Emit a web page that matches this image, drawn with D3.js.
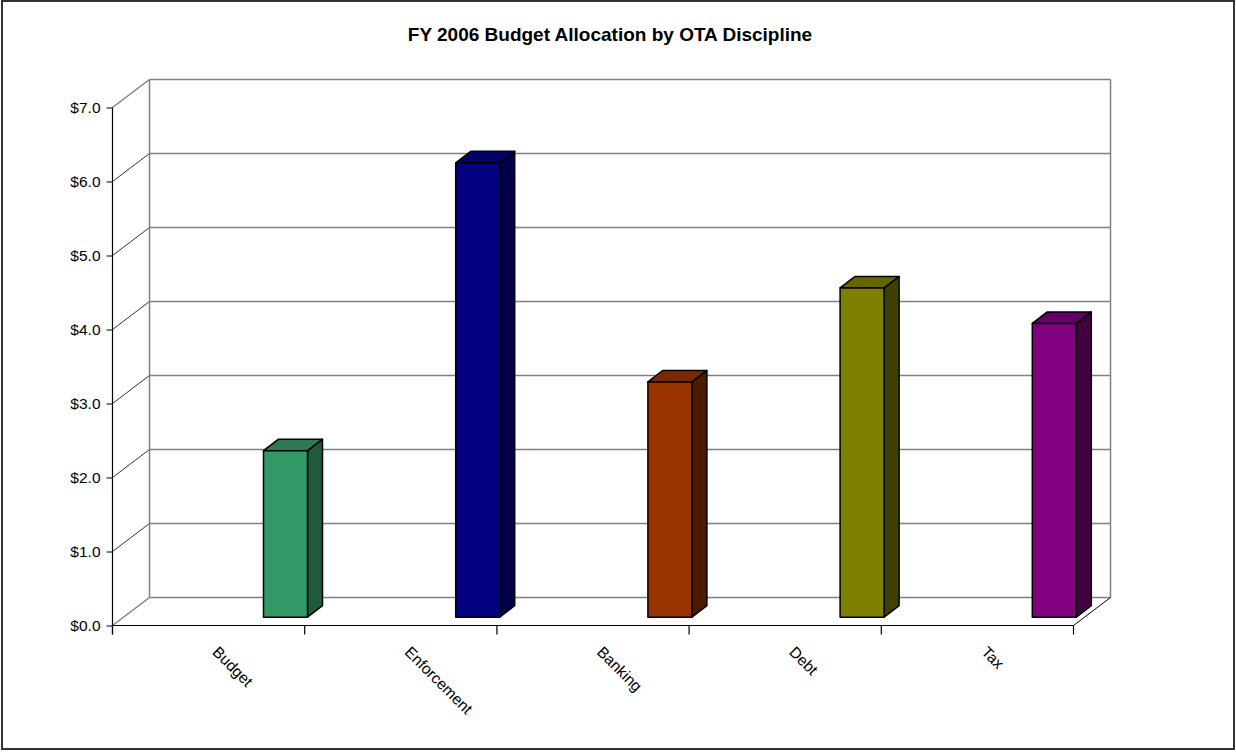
<!DOCTYPE html>
<html><head><meta charset="utf-8">
<script src="https://cdn.jsdelivr.net/npm/d3@7"></script>
<style>body{margin:0;background:#fff;} svg{display:block;font-family:"Liberation Sans",Arial,sans-serif;}</style>
</head><body>
<svg id="c" width="1236" height="752"></svg>
<script>
const title = "FY 2006 Budget Allocation by OTA Discipline";
const categories = ["Budget", "Enforcement", "Banking", "Debt", "Tax"];
const values = [2.25, 6.14, 3.18, 4.45, 3.97];
const frontColors = ["#339966", "#000080", "#993300", "#808000", "#800080"];
const sideColors = ["#1f5a3c", "#00004a", "#4d1a00", "#404000", "#420042"];
const topColors = ["#2b7a52", "#000066", "#7a2900", "#666600", "#660066"];
const yTicks = [0, 1, 2, 3, 4, 5, 6, 7];
const yTickLabels = ["$0.0", "$1.0", "$2.0", "$3.0", "$4.0", "$5.0", "$6.0", "$7.0"];

const svg = d3.select("#c");
const W = 1236, H = 752;
// frame
svg.append("rect").attr("x", 2).attr("y", 1).attr("width", W - 4).attr("height", H - 4)
  .attr("fill", "#fff").attr("stroke", "#333").attr("stroke-width", 2);

svg.append("text").attr("x", 610).attr("y", 41).attr("text-anchor", "middle")
  .attr("font-size", 19).attr("font-weight", "bold").text(title);

const x0 = 112.5, x1 = 1073.5;
const x = d3.scaleBand().domain(categories).range([x0, x1]).padding(0);
const y = d3.scaleLinear().domain([0, 7]).range([625.5, 107.5]);
const DX = 37, DY = -28; // wall depth
const g = svg.append("g");

// back wall gridlines
yTicks.forEach(v => {
  g.append("line").attr("x1", x0 + DX).attr("x2", x1 + DX)
    .attr("y1", y(v) + DY).attr("y2", y(v) + DY)
    .attr("stroke", "#808080").attr("stroke-width", 1.5);
  // left wall diagonal
  g.append("line").attr("x1", x0).attr("y1", y(v)).attr("x2", x0 + DX).attr("y2", y(v) + DY)
    .attr("stroke", (v === 0 || v === 7) ? "#808080" : "#000")
    .attr("stroke-width", (v === 0 || v === 7) ? 1.5 : 0.8);
});
// back wall verticals
g.append("line").attr("x1", x0 + DX).attr("x2", x0 + DX).attr("y1", y(0) + DY).attr("y2", y(7) + DY)
  .attr("stroke", "#808080").attr("stroke-width", 1.5);
g.append("line").attr("x1", x1 + DX).attr("x2", x1 + DX).attr("y1", y(0) + DY).attr("y2", y(7) + DY)
  .attr("stroke", "#808080").attr("stroke-width", 1.5);
// floor right diagonal
g.append("line").attr("x1", x1).attr("y1", y(0)).attr("x2", x1 + DX).attr("y2", y(0) + DY)
  .attr("stroke", "#000").attr("stroke-width", 1);

// bars
const bw = 44, bdx = 15, bdy = -11.5, bShift = 151, bLift = 8.3;
categories.forEach((c, i) => {
  const left = x(c) + bShift;
  const right = left + bw;
  const bot = y(0) - bLift;
  const top = bot - (y(0) - y(values[i]));
  const bg = g.append("g").attr("stroke", "#000").attr("stroke-width", 1.5).attr("stroke-linejoin", "round");
  bg.append("path").attr("fill", sideColors[i])
    .attr("d", `M${right},${bot}L${right + bdx},${bot + bdy}L${right + bdx},${top + bdy}L${right},${top}Z`);
  bg.append("path").attr("fill", topColors[i])
    .attr("d", `M${left},${top}L${left + bdx},${top + bdy}L${right + bdx},${top + bdy}L${right},${top}Z`);
  bg.append("rect").attr("fill", frontColors[i])
    .attr("x", left).attr("y", top).attr("width", bw).attr("height", bot - top);
});

// front axes
g.append("line").attr("x1", x0).attr("x2", x1).attr("y1", y(0)).attr("y2", y(0))
  .attr("stroke", "#000").attr("stroke-width", 1.2);
g.append("line").attr("x1", x0).attr("x2", x0).attr("y1", y(7)).attr("y2", y(0) + 9)
  .attr("stroke", "#000").attr("stroke-width", 1.2);

const yAxis = d3.axisLeft(y).tickValues(yTicks).tickSize(6).tickPadding(6)
  .tickFormat((d, i) => yTickLabels[i]);
const ya = svg.append("g").attr("transform", `translate(${x0},0)`).call(yAxis);
ya.select(".domain").remove();
ya.selectAll("line").attr("stroke", "#000");
ya.selectAll("text").attr("font-size", 15.5).attr("fill", "#000")
  .attr("font-family", "Liberation Sans, Arial, sans-serif");

// category ticks
const bounds = categories.map(c => x(c)).concat([x1]);
bounds.forEach(b => {
  g.append("line").attr("x1", b).attr("x2", b).attr("y1", y(0)).attr("y2", y(0) + 9)
    .attr("stroke", "#000").attr("stroke-width", 1.2);
});
categories.forEach(c => {
  const cx = x(c) + x.bandwidth() / 2;
  svg.append("text").attr("transform", `translate(${cx + 3},653) rotate(45)`)
    .attr("font-size", 15.5).attr("text-anchor", "start").text(c);
});
</script>
</body></html>
